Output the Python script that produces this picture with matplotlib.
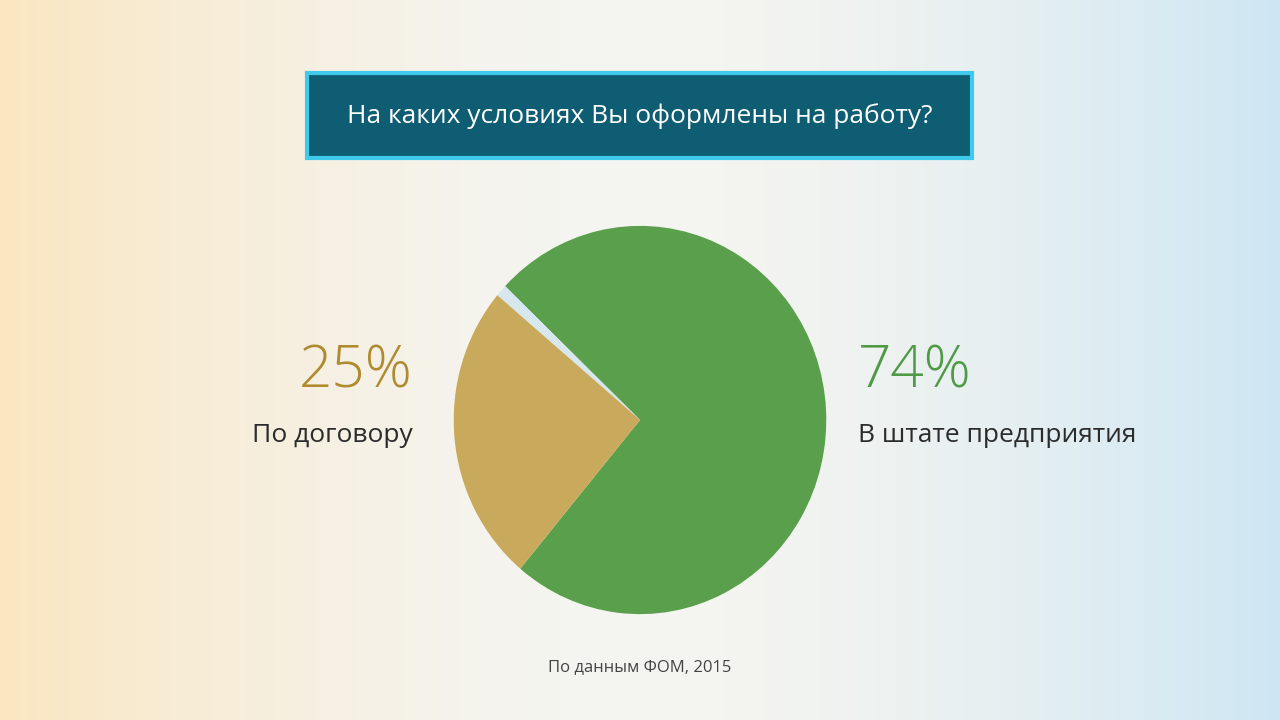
import numpy as np
import matplotlib
matplotlib.use("Agg")
import matplotlib.pyplot as plt
from matplotlib.patches import FancyBboxPatch

labels = ["В штате предприятия", "Затрудняюсь ответить", "По договору"]
values = [74, 1, 25]
pct_labels = ["74%", "", "25%"]
colors = ["#5a9f4c", "#d6e8ee", "#c9a95c"]
title = "На каких условиях Вы оформлены на работу?"
source = "По данным ФОМ, 2015"

fig = plt.figure(figsize=(12.8, 7.2), dpi=100)
bg = fig.add_axes([0, 0, 1, 1])
x = np.linspace(0, 1, 256)
y = np.linspace(0, 1, 144)
X, Y = np.meshgrid(x, y)
left = np.array([0.99, 0.86, 0.62])
mid = np.array([0.95, 0.95, 0.93])
right = np.array([0.70, 0.86, 0.95])
wl = np.clip(1 - X / 0.45, 0, 1)[..., None] ** 1.5
wr = np.clip((X - 0.55) / 0.45, 0, 1)[..., None] ** 1.5
img = mid * (1 - wl - wr) + left * wl + right * wr
img = img * 0.6 + 0.4 * np.array([0.97, 0.97, 0.96])
bg.imshow(img, extent=[0, 1, 0, 1], aspect="auto", origin="lower")
bg.set_xlim(0, 1); bg.set_ylim(0, 1); bg.axis("off")

box = FancyBboxPatch((307/1280, 1-158/720), 665/1280, 85/720,
                     boxstyle="square,pad=0", facecolor="#0e5d72",
                     edgecolor="#3fc9ea", linewidth=3, transform=bg.transAxes)
bg.add_patch(box)
bg.text(640/1280, 1-116/720, title, color="white", fontsize=19,
        ha="center", va="center", family="Open Sans")

ax = fig.add_axes([(640-190)/1280, 1-(420+198)/720, 380/1280, 396/720])
ax.pie(values, colors=colors, startangle=230, counterclock=True,
       wedgeprops=dict(edgecolor="#4a8d40", linewidth=0))
ax.set_aspect("auto")
ax.set_xlim(-1.02, 1.02); ax.set_ylim(-1.02, 1.02)
ax.axis("off")

bg.text(413/1280, 1-372/720, pct_labels[2], color="#b08a2e", fontsize=42,
        ha="right", va="center", family="Open Sans", fontweight="light")
bg.text(413/1280, 1-436/720, labels[2], color="#2b2b2b", fontsize=19,
        ha="right", va="center", family="Open Sans")
bg.text(858/1280, 1-372/720, pct_labels[0], color="#4f9a45", fontsize=42,
        ha="left", va="center", family="Open Sans", fontweight="light")
bg.text(858/1280, 1-436/720, labels[0], color="#2b2b2b", fontsize=19,
        ha="left", va="center", family="Open Sans")
bg.text(640/1280, 1-667/720, source, color="#444444", fontsize=12,
        ha="center", va="center", family="Open Sans")

fig.savefig("out.png", dpi=100)
